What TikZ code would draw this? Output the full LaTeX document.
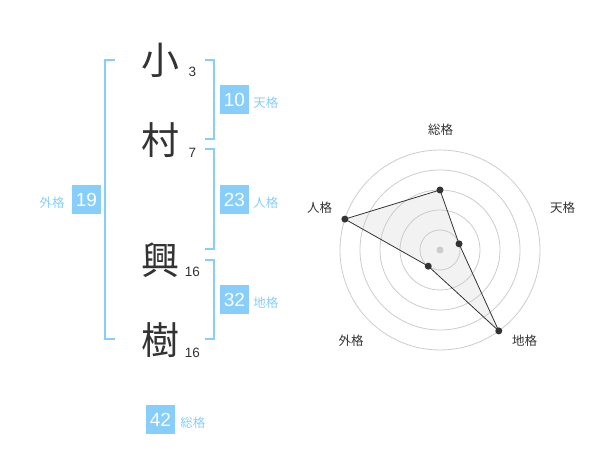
\documentclass[tikz,border=0pt]{standalone}
\usepackage{fontspec}
\setmainfont{Liberation Sans}
\newfontfamily\jp{Noto Sans CJK JP}
\usepackage{tikz}
\usetikzlibrary{positioning}
\definecolor{boxblue}{HTML}{87CEFA}
\definecolor{ink}{HTML}{333333}
\definecolor{ring}{HTML}{CCCCCC}
\definecolor{area}{HTML}{F2F2F2}
\tikzstyle{kanji}=[font=\jp\fontsize{38}{38}\selectfont, text=ink, inner sep=0]
\tikzstyle{strokes}=[font=\fontsize{13.5}{13.5}\selectfont, text=ink, inner sep=0]
\tikzstyle{score}=[fill=boxblue, text=white, minimum width=29pt, minimum height=29pt, inner sep=0, font=\fontsize{19}{19}\selectfont]
\tikzstyle{kaku}=[font=\jp\fontsize{12.5}{12.5}\selectfont, text=boxblue, inner sep=0]
\tikzstyle{axis}=[font=\jp\fontsize{12.5}{12.5}\selectfont, text=ink, inner sep=0]
\tikzstyle{bracket}=[boxblue, line width=2pt]
\tikzstyle{dot}=[shape=circle, minimum size=7pt, inner sep=0, fill=ink]

\begin{document}
\begin{tikzpicture}[x=1pt, y=-1pt]
\useasboundingbox (0,0) rectangle (600,470);
% name and strokes
\node[kanji] (c1) at (160,60) {小};
\node[kanji] (c2) at (160,140) {村};
\node[kanji] (c3) at (160,260) {興};
\node[kanji] (c4) at (160,340) {樹};
\node[strokes] (s1) at (192.5,72) {3};
\node[strokes] (s2) at (192.5,153) {7};
\node[strokes] (s3) at (192.5,272) {16};
\node[strokes] (s4) at (192.5,353) {16};
% brackets
\draw[bracket] (115,60) -- (105,60) -- (105,339) -- (115,339);
\draw[bracket] (205,60) -- (214,60) -- (214,139) -- (205,139);
\draw[bracket] (205,149) -- (214,149) -- (214,249) -- (205,249);
\draw[bracket] (205,260) -- (214,260) -- (214,339) -- (205,339);
% scores
\node[score] (ten) at (234.5,100) {10};
\node[kaku, right=4pt of ten, yshift=-3pt] (tenl) {天格};
\node[score] (jin) at (234.5,200) {23};
\node[kaku, right=4pt of jin, yshift=-3pt] (jinl) {人格};
\node[score] (chi) at (234.5,300) {32};
\node[kaku, right=4pt of chi, yshift=-3pt] (chil) {地格};
\node[score] (gai) at (86.5,200) {19};
\node[kaku, left=7pt of gai, yshift=-3pt] (gail) {外格};
\node[score] (sou) at (160.5,419.5) {42};
\node[kaku, right=5pt of sou, yshift=-3pt] (soul) {総格};
% radar
\begin{scope}[shift={(440,250)}, yscale=-1]
\coordinate (so) at (90:60);
\coordinate (te) at (18:20);
\coordinate (ch) at (-54:100);
\coordinate (ga) at (-126:20);
\coordinate (ji) at (162:100);
\fill[area] (so)--(te)--(ch)--(ga)--(ji)--cycle;
\foreach \r in {20,40,60,80,100}
  \draw[ring, line width=0.8pt] (0,0) circle (\r pt);
\fill[ring] (0,0) circle (3.5pt);
\draw[ink, line width=0.8pt] (so)--(te)--(ch)--(ga)--(ji)--cycle;
\node[dot] (dso) at (so) {};
\node[dot] (dte) at (te) {};
\node[dot] (dch) at (ch) {};
\node[dot] (dga) at (ga) {};
\node[dot] (dji) at (ji) {};
\end{scope}
\node[axis] (aso) at (440.5,130) {総格};
\node[axis] (ate) at (562.5,208) {天格};
\node[axis] (ach) at (524.5,341) {地格};
\node[axis] (aga) at (351,341) {外格};
\node[axis] (aji) at (319.5,208) {人格};
\end{tikzpicture}
\end{document}
